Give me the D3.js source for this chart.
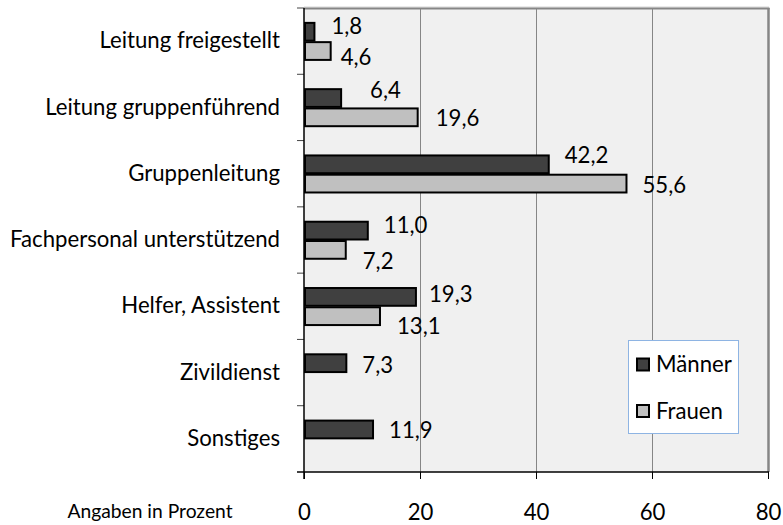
<!DOCTYPE html>
<html><head><meta charset="utf-8">
<script src="https://cdn.jsdelivr.net/npm/d3@7"></script>
<style>html,body{margin:0;padding:0;background:#fff;}svg{display:block;}</style>
</head><body>
<svg id="chart" width="783" height="525"></svg>
<script>
const categories = ["Leitung freigestellt","Leitung gruppenführend","Gruppenleitung","Fachpersonal unterstützend","Helfer, Assistent","Zivildienst","Sonstiges"];
const seriesNames = ["Männer","Frauen"];
const maenner = [1.8, 6.4, 42.2, 11.0, 19.3, 7.3, 11.9];
const frauen = [4.6, 19.6, 55.6, 7.2, 13.1, null, null];
const xTicks = [0, 20, 40, 60, 80];
const axisNote = "Angaben in Prozent";

// manual label nudges (as dragged in the original), [dx, dy] relative to default placement
const nudgeMaenner = [[1, -1], [13, -4], [0, -5], [0, -1], [-3, 2], [0, 6], [0, 5]];
const nudgeFrauen = [[-6, 1], [2, -4], [0, -3], [1, 7], [1, 5], [0, 0], [0, 0]];

(function () {
const svg = d3.select("#chart");
const FONT = "Lato, 'Open Sans', sans-serif";
const colors = {"Männer":"#404040","Frauen":"#c0c0c0"};

const probe = svg.append("text").attr("font-family", FONT).attr("font-size", 100).text("Fachpersonal unterstützend");
const pw = probe.node().getComputedTextLength();
probe.remove();
const fs = Math.min(24, 100 * 270 / pw);
const fsSmall = fs * 20.4 / 23.5;

const pL = 304, pR = 768, pT = 8, pB = 472;
const x = d3.scaleLinear().domain([0, 80]).range([pL, pR]);
const y = d3.scaleBand().domain(categories).range([pT, pB]).paddingInner(0).paddingOuter(0);
const ys = d3.scaleBand().domain(seriesNames).range([0, y.bandwidth()]).paddingInner(0).paddingOuter(0.72);

svg.append("rect").attr("x", pL).attr("y", pT).attr("width", pR - pL).attr("height", pB - pT).attr("fill", "#f0f0f0");

svg.append("g").selectAll("line").data(xTicks.filter(t => t > 0 && t < 80)).join("line")
  .attr("x1", d => Math.round(x(d)) + 0.5).attr("x2", d => Math.round(x(d)) + 0.5)
  .attr("y1", pT).attr("y2", pB).attr("stroke", "#868686").attr("stroke-width", 1);

svg.append("line").attr("x1", pL).attr("x2", pR + 1).attr("y1", pT - 1).attr("y2", pT - 1).attr("stroke", "#d4d4d4").attr("stroke-width", 1);
svg.append("line").attr("x1", pL).attr("x2", pR + 1.5).attr("y1", pT + 0.5).attr("y2", pT + 0.5).attr("stroke", "#868686").attr("stroke-width", 2);
svg.append("line").attr("x1", pR + 0.5).attr("x2", pR + 0.5).attr("y1", pT).attr("y2", pB).attr("stroke", "#868686").attr("stroke-width", 2.5);

const rows = [];
categories.forEach((c, i) => {
  rows.push({cat: c, s: "Männer", v: maenner[i], n: nudgeMaenner[i]});
  if (frauen[i] != null) rows.push({cat: c, s: "Frauen", v: frauen[i], n: nudgeFrauen[i]});
});
svg.append("g").selectAll("rect").data(rows).join("rect")
  .attr("x", x(0) + 1)
  .attr("y", d => y(d.cat) + ys(d.s) + 1)
  .attr("width", d => x(d.v) - x(0) - 1)
  .attr("height", ys.bandwidth() - 1.5)
  .attr("fill", d => colors[d.s])
  .attr("stroke", "#000").attr("stroke-width", 2);

svg.append("g").selectAll("text").data(rows).join("text")
  .attr("x", d => x(d.v) + 16 + d.n[0])
  .attr("y", d => y(d.cat) + ys(d.s) + ys.bandwidth() / 2 + (d.s === "Männer" ? -4 : 5) + d.n[1])
  .attr("dy", "0.35em")
  .attr("font-family", FONT).attr("font-size", fs).attr("fill", "#000")
  .text(d => d3.format(".1f")(d.v).replace(".", ","));

const xAxis = svg.append("g").attr("transform", `translate(0,${pB})`)
  .call(d3.axisBottom(x).tickValues(xTicks).tickSize(7).tickPadding(25).tickFormat(d3.format("d")));
xAxis.select(".domain").remove();
xAxis.selectAll(".tick line").attr("stroke", "#000").attr("stroke-width", 1);
xAxis.selectAll(".tick text").attr("font-family", FONT).attr("font-size", fs).attr("fill", "#000");
svg.append("line").attr("x1", pL - 7).attr("x2", pR + 1).attr("y1", pB).attr("y2", pB).attr("stroke", "#000").attr("stroke-width", 1.5);

const yAxis = svg.append("g").attr("transform", `translate(${pL},0)`)
  .call(d3.axisLeft(y).tickSize(0).tickPadding(24));
yAxis.select(".domain").remove();
yAxis.selectAll(".tick text").attr("font-family", FONT).attr("font-size", fs).attr("fill", "#000");
const boundaries = categories.map(c => y(c)).concat([pB]);
svg.append("g").selectAll("line").data(boundaries).join("line")
  .attr("x1", pL - 7).attr("x2", pL).attr("y1", d => d).attr("y2", d => d)
  .attr("stroke", "#444").attr("stroke-width", 1);
svg.append("line").attr("x1", pL).attr("x2", pL).attr("y1", pT).attr("y2", pB + 7).attr("stroke", "#000").attr("stroke-width", 1.5);

svg.append("text").attr("x", 150).attr("y", 518).attr("text-anchor", "middle")
  .attr("font-family", FONT).attr("font-size", fsSmall).attr("fill", "#000").text(axisNote);

const lg = svg.append("g");
lg.append("rect").attr("x", 628.5).attr("y", 340.5).attr("width", 110).attr("height", 93)
  .attr("fill", "#fff").attr("stroke", "#8eb4e3").attr("stroke-width", 1);
const legendY = d3.scalePoint().domain(seriesNames).range([364.5, 411]);
seriesNames.forEach(s => {
  lg.append("rect").attr("x", 637).attr("y", legendY(s) - 6).attr("width", 12).attr("height", 12)
    .attr("fill", colors[s]).attr("stroke", "#000").attr("stroke-width", 2);
  lg.append("text").attr("x", 656).attr("y", legendY(s)).attr("dy", "0.35em")
    .attr("font-family", FONT).attr("font-size", fs).attr("fill", "#000").text(s);
});
})();
</script>
</body></html>
